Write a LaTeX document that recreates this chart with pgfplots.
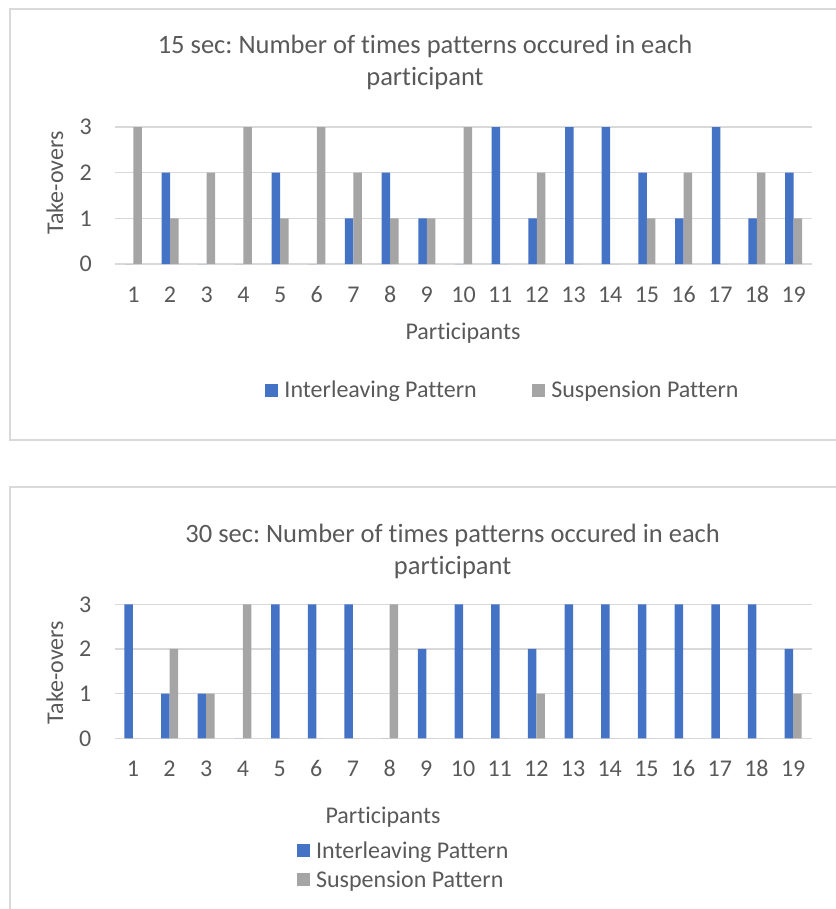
\documentclass[border=0pt]{standalone}
\usepackage{fontspec}
\setmainfont{Carlito}[Ligatures={NoCommon,NoContextual,NoRare}]
\usepackage{pgfplots}
\usepackage{pgfplotstable}
\pgfplotsset{compat=1.18}
\frenchspacing

\definecolor{ilv}{HTML}{4472C4}
\definecolor{sus}{HTML}{A5A5A5}
\definecolor{gridc}{HTML}{D9D9D9}
\definecolor{txt}{HTML}{595959}

\newcommand\lbl{\fontsize{24}{28}\selectfont}
\newcommand\ttl{\fontsize{26.5}{31}\selectfont}

% participant, interleaving, suspension
\pgfplotstableread{
p ilv sus
1 0 3
2 2 1
3 0 2
4 0 3
5 2 1
6 0 3
7 1 2
8 2 1
9 1 1
10 0 3
11 3 0
12 1 2
13 3 0
14 3 0
15 2 1
16 1 2
17 3 0
18 1 2
19 2 1
}\fifteen

\pgfplotstableread{
p ilv sus
1 3 0
2 1 2
3 1 1
4 0 3
5 3 0
6 3 0
7 3 0
8 0 3
9 2 0
10 3 0
11 3 0
12 2 1
13 3 0
14 3 0
15 3 0
16 3 0
17 3 0
18 3 0
19 2 1
}\thirty

\pgfplotsset{
  takeovers/.style={
    scale only axis, width=697pt,
    xmin=0.5, xmax=19.5, ymin=0, ymax=3,
    enlargelimits=false,
    ybar=0pt, bar width=8.5pt,
    axis line style={draw=none},
    ymajorgrids, grid style={gridc, line width=1.6pt},
    xtick={1,...,19}, ytick={0,1,2,3},
    major tick length=0pt,
    tick label style={font=\lbl, text=txt},
    /pgf/number format/assume math mode=true,
    xticklabel style={anchor=base, yshift=-38pt},
    yticklabel style={anchor=east, inner sep=0pt, xshift=-23pt},
    legend cell align=left,
    legend style={draw=none, fill=none, inner sep=0pt, outer sep=0pt,
      font=\lbl, text=txt, nodes={inner sep=0pt}},
  },
  swatch/.style={legend image code/.code={\fill[##1] (0pt,-6.5pt) rectangle (13pt,6.5pt);}},
}

\begin{document}
\begin{tikzpicture}
\useasboundingbox (0pt,0pt) rectangle (835pt,-909pt);

% chart frames
\draw[gridc, line width=2pt] (10pt,-9pt) rectangle (850pt,-440pt);
\draw[gridc, line width=2pt] (10pt,-487pt) rectangle (850pt,-930pt);

% 15 sec
\begin{axis}[takeovers, height=137pt,
  at={(115pt,-264pt)}, anchor=south west,
  legend columns=2,
  legend style={at={(axis description cs:0.2152,-0.92)}, anchor=west,
    /tikz/every odd column/.append style={column sep=6.5pt},
    /tikz/every even column/.append style={column sep=55pt}},
]
\addplot[fill=ilv, draw=none, swatch] table[x=p, y=ilv] {\fifteen};
\addplot[fill=sus, draw=none, swatch] table[x=p, y=sus] {\fifteen};
\legend{Interleaving Pattern, Suspension Pattern}
\end{axis}

\node[font=\ttl, text=txt, anchor=base] at (425pt,-54pt) {15 sec: Number of times patterns occured in each};
\node[font=\ttl, text=txt, anchor=base] at (425pt,-86pt) {participant};
\node[font=\lbl, text=txt, anchor=base] at (463pt,-339pt) {Participants};
\node[font=\lbl, text=txt, anchor=base, rotate=90] at (63pt,-183pt) {Take-overs};

% 30 sec
\begin{axis}[takeovers, height=134pt,
  at={(114.5pt,-738.3pt)}, anchor=south west,
  legend columns=1,
  legend style={at={(axis description cs:0.262,-0.947)}, anchor=west,
    /tikz/every odd column/.append style={column sep=6pt},
    row sep=11pt},
]
\addplot[fill=ilv, draw=none, swatch] table[x=p, y=ilv] {\thirty};
\addplot[fill=sus, draw=none, swatch] table[x=p, y=sus] {\thirty};
\legend{Interleaving Pattern, Suspension Pattern}
\end{axis}

\node[font=\ttl, text=txt, anchor=base] at (452.6pt,-542pt) {30 sec: Number of times patterns occured in each};
\node[font=\ttl, text=txt, anchor=base] at (452.6pt,-574pt) {participant};
\node[font=\lbl, text=txt, anchor=base] at (383pt,-823pt) {Participants};
\node[font=\lbl, text=txt, anchor=base, rotate=90] at (63pt,-672.5pt) {Take-overs};
\end{tikzpicture}
\end{document}
